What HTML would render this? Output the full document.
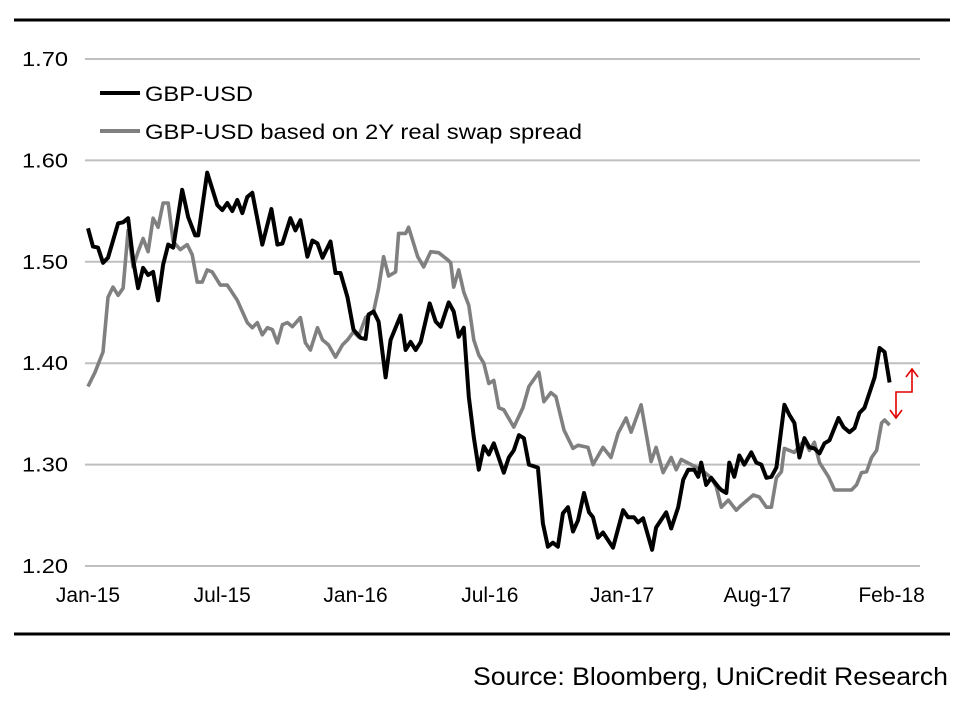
<!DOCTYPE html>
<html><head><meta charset="utf-8"><style>
html,body{margin:0;padding:0;background:#fff;}
svg{display:block;font-family:"Liberation Sans",Arial,sans-serif;}
</style></head><body>
<svg id="chart" width="958" height="706" viewBox="0 0 958 706" xmlns="http://www.w3.org/2000/svg">
<line x1="14" y1="20" x2="950" y2="20" stroke="#000" stroke-width="3"/>
<line x1="14" y1="634" x2="950" y2="634" stroke="#000" stroke-width="3"/>
<g id="grid"></g>
<g id="yticks"></g>
<g id="xticks"></g>
<g id="series"></g>
<g>
<line x1="100" y1="93" x2="140" y2="93" stroke="#000" stroke-width="4"/>
<text x="145" y="101" font-size="21" textLength="108" lengthAdjust="spacingAndGlyphs">GBP-USD</text>
<line x1="100" y1="131" x2="140" y2="131" stroke="#808080" stroke-width="4"/>
<text x="145" y="139" font-size="21" textLength="437" lengthAdjust="spacingAndGlyphs">GBP-USD based on 2Y real swap spread</text>
</g>
<g fill="none" stroke="#e00000" stroke-width="1.6">
<path d="M912,370 L912,392 L896,392 L896,417"/>
<path d="M906,377 L912,369 L918,377"/>
<path d="M890,410 L896,418 L902,410"/>
</g>
<text x="948" y="685" font-size="25" text-anchor="end" textLength="475" lengthAdjust="spacingAndGlyphs">Source: Bloomberg, UniCredit Research</text>
</svg>
<script>
const yTicks=[1.20,1.30,1.40,1.50,1.60,1.70];
const xTickLabels=["Jan-15","Jul-15","Jan-16","Jul-16","Jan-17","Aug-17","Feb-18"];
const xTickWeeks=[0,26.8,53.4,80.2,106.6,133.6,160.4];
const gbpWeeks=[0,1,2,3,4,6,7,8,9,10,11,12,13,14,15,16,17,18.8,20,21.4,22,23.8,25.8,26.8,27.8,28.8,29.8,30.8,31.8,32.8,34.8,36.6,37.8,38.8,40.4,41.4,42.4,43.8,44.8,45.8,46.8,48.4,49.4,50.4,51.8,53,54.4,55.4,56,57,58,59.4,60.4,62.4,63.4,64.4,65.4,66.4,68.2,69.4,70.4,72,73,74,75,76,77,78,79,80,81,83,84,85,86,87,88,89.8,90.8,91.8,92.8,93.8,94.8,95.8,96.8,97.8,99,100,100.8,101.8,102.8,104.8,106.8,107.8,109,109.8,110.8,112.6,113.4,115.4,116.4,117.8,118.8,119.8,121,121.8,122.4,123.4,124.4,125.8,126.4,127.4,128,129,130,131,132.4,133.4,134.4,135.4,136.4,137.4,139,140,141,142,143,144,145,146,147,148,149.8,150.8,152,153,154,155,157,158,159,160];
const gbpValues=[1.533,1.515,1.514,1.499,1.504,1.538,1.539,1.543,1.502,1.474,1.494,1.487,1.490,1.462,1.497,1.517,1.514,1.571,1.544,1.526,1.526,1.588,1.556,1.551,1.558,1.550,1.561,1.548,1.564,1.568,1.517,1.552,1.517,1.518,1.543,1.531,1.541,1.505,1.521,1.518,1.504,1.520,1.489,1.489,1.465,1.433,1.425,1.424,1.448,1.451,1.441,1.386,1.423,1.447,1.413,1.421,1.413,1.421,1.459,1.441,1.436,1.460,1.451,1.426,1.435,1.367,1.327,1.295,1.318,1.310,1.321,1.292,1.307,1.314,1.329,1.326,1.300,1.297,1.242,1.219,1.223,1.219,1.252,1.258,1.234,1.245,1.272,1.253,1.248,1.228,1.233,1.218,1.255,1.248,1.248,1.243,1.247,1.216,1.238,1.253,1.237,1.258,1.285,1.295,1.295,1.288,1.302,1.280,1.287,1.278,1.275,1.272,1.302,1.288,1.309,1.300,1.312,1.302,1.300,1.287,1.288,1.297,1.359,1.349,1.341,1.307,1.326,1.317,1.316,1.311,1.321,1.324,1.346,1.337,1.332,1.336,1.351,1.356,1.386,1.415,1.411,1.381];
const swapWeeks=[0,1.4,3,4,5,6,7,8,9,10,11,12,13,14,15,16,17,18.4,19.8,20.8,21.8,22.8,23.8,24.8,26.4,27.8,29.8,31.8,32.8,33.8,34.8,35.8,36.8,37.8,38.8,39.8,40.8,42.4,43.4,44.4,45.8,46.8,48,49.4,50.8,51.8,53,54,55.4,57,58,59,60,61.4,62,63.4,64,65.8,67,68.4,70,71.8,72.4,73,74,75,76,77,78,79,80,81,82,83,85,86.8,88,90,91,92.4,93.4,95,96.8,97.8,99.8,100.8,102.8,104.4,105.8,107.4,108.4,110.4,112.4,113.4,114.8,116.4,117.4,118.4,120.4,122.4,124.4,125.4,126.4,127.8,129.4,130.4,132.8,134,135.4,136.4,137.4,138.4,139,141,143,144,145,146,147.8,149,150.4,152.4,153.4,154.4,155.4,156.4,157.4,158.4,159,160];
const swapValues=[1.377,1.391,1.411,1.465,1.475,1.467,1.474,1.531,1.495,1.510,1.523,1.510,1.543,1.534,1.558,1.558,1.520,1.512,1.517,1.507,1.480,1.480,1.492,1.490,1.477,1.477,1.462,1.440,1.435,1.440,1.428,1.435,1.433,1.420,1.438,1.440,1.436,1.445,1.420,1.413,1.435,1.423,1.418,1.406,1.418,1.423,1.431,1.426,1.445,1.451,1.474,1.505,1.486,1.490,1.528,1.528,1.534,1.505,1.495,1.510,1.509,1.502,1.499,1.475,1.492,1.470,1.457,1.423,1.408,1.400,1.380,1.383,1.356,1.354,1.337,1.356,1.377,1.391,1.362,1.371,1.367,1.334,1.316,1.319,1.317,1.300,1.317,1.307,1.331,1.346,1.332,1.359,1.303,1.317,1.292,1.307,1.295,1.305,1.300,1.295,1.287,1.278,1.258,1.265,1.255,1.260,1.270,1.268,1.258,1.258,1.287,1.293,1.316,1.312,1.324,1.314,1.322,1.302,1.288,1.275,1.275,1.275,1.280,1.292,1.293,1.307,1.314,1.341,1.344,1.339];

const NS="http://www.w3.org/2000/svg";
const X0=88,PXW=5.01,Y0=566,YMIN=1.2,PXV=1014;
function xs(w){return X0+w*PXW;}
function ys(v){return Y0-(v-YMIN)*PXV;}
const grid=document.getElementById('grid'),yt=document.getElementById('yticks'),xt=document.getElementById('xticks'),ser=document.getElementById('series');
yTicks.forEach(function(v){
  if(v>YMIN+0.001){
    const l=document.createElementNS(NS,'line');
    
    
    l.setAttribute('x1',85);l.setAttribute('x2',920);l.setAttribute('y1',ys(v));l.setAttribute('y2',ys(v));
    l.setAttribute('stroke','#bfbfbf');l.setAttribute('stroke-width','2');
    grid.appendChild(l);
  }
  const t=document.createElementNS(NS,'text');
  
  
  t.setAttribute('x',68);t.setAttribute('y',ys(v)+7);t.setAttribute('text-anchor','end');t.setAttribute('font-size','20');
  t.setAttribute('textLength','46');t.setAttribute('lengthAdjust','spacingAndGlyphs');
  t.textContent=v.toFixed(2);yt.appendChild(t);
});
const base=document.createElementNS(NS,'line');


base.setAttribute('x1',85);base.setAttribute('x2',920);base.setAttribute('y1',Y0);base.setAttribute('y2',Y0);
base.setAttribute('stroke','#bfbfbf');base.setAttribute('stroke-width','2');
grid.appendChild(base);
xTickLabels.forEach(function(s,i){
  const t=document.createElementNS(NS,'text');
  
  
  t.setAttribute('x',xs(xTickWeeks[i]));t.setAttribute('y',602);t.setAttribute('text-anchor','middle');t.setAttribute('font-size','21');
  t.textContent=s;xt.appendChild(t);
});
function line(ws,vs,color,w,name){
  const p=document.createElementNS(NS,'polyline');
  
  
  p.setAttribute('points',ws.map(function(x,i){return xs(x).toFixed(1)+','+ys(vs[i]).toFixed(1);}).join(' '));
  p.setAttribute('fill','none');p.setAttribute('stroke',color);p.setAttribute('stroke-width',w);p.setAttribute('stroke-linejoin','round');
  ser.appendChild(p);
}
line(swapWeeks,swapValues,'#808080',3.6,'swap-spread-line');
line(gbpWeeks,gbpValues,'#000',4,'gbp-usd-line');
</script>
</body></html>
